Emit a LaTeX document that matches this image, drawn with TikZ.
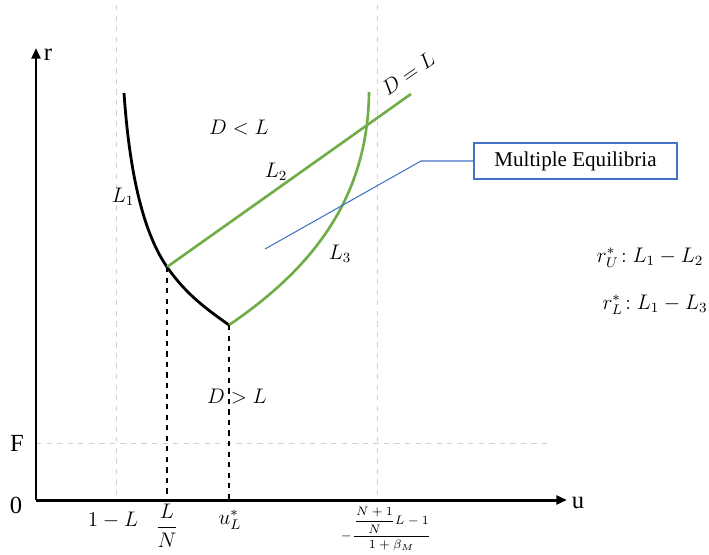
\documentclass[tikz,border=0pt]{standalone}
\usepackage{amsmath}
\usepackage{fontspec}
\setmainfont{Liberation Serif}
\usetikzlibrary{arrows.meta,positioning,calc}
\definecolor{curvegreen}{RGB}{112,173,71}
\definecolor{noteblue}{RGB}{68,114,196}
\begin{document}
\begin{tikzpicture}[x=0.02cm,y=-0.02cm,>={Triangle[length=6pt,width=5pt]},
  font=\fontsize{12}{14}\selectfont,
  axis/.style={line width=1.7pt},
  axislabel/.style={font=\fontsize{14}{16}\selectfont},
  guide/.style={gray!35,dashed,line width=0.5pt},
  drop/.style={black,dashed,line width=0.8pt},
  greencurve/.style={curvegreen,line width=1.5pt},
  tick/.style={anchor=center}]
\useasboundingbox (0,0) rectangle (709,554);
% guide lines
\draw[guide] (116,5) -- (116,500);
\draw[guide] (377,5) -- (377,500);
\draw[guide] (36,443) -- (550,443);
% axes
\coordinate (O) at (36,500);
\coordinate (ytop) at (36,48);
\coordinate (xend) at (567,500);
\draw[axis,->] (O) -- (ytop);
\draw[axis,->] (O) -- (xend);
\node[axislabel] (r) at (48,55) {r};
\node[axislabel] (u) at (578,503) {u};
\node[axislabel] (zero) at (16,505) {0};
\node[axislabel] (F) at (17,443) {F};
% key points
\coordinate (A) at (124,93);
\coordinate (P) at (167,267);
\coordinate (Q) at (229,325);
\coordinate (L2end) at (411,94);
\coordinate (L3end) at (369,92);
% curves
\draw[line width=1.6pt] (A) .. controls (130,180) and (145,235) .. (P)
  .. controls (186,294) and (205,308) .. (Q);
\draw[greencurve] (P) -- (L2end);
\draw[greencurve] (Q) .. controls (310,270) and (368,200) .. (L3end);
\draw[drop] (P) -- (P |- O);
\draw[drop] (Q) -- (Q |- O);
% tick labels
\node[tick] (oneL) at (113,520) {$1-L$};
\node[tick] (LN) at (167,526) {$\dfrac{L}{N}$};
\node[tick] (uL) at (230,520) {$u_L^*$};
\node[tick,font=\fontsize{7}{8}\selectfont] (bound) at (386,529)
  {$-\dfrac{\dfrac{N+1}{N}L-1}{1+\beta_M}$};
% region and curve labels
\node (DL) at (408,74) [rotate=35] {$D=L$};
\node (less) at (239,128) {$D<L$};
\node (more) at (237,397) {$D>L$};
\node (l1) at (123,197) {$L_1$};
\node (l2) at (276,172) {$L_2$};
\node (l3) at (340,254) {$L_3$};
% multiple equilibria note
\node[draw=noteblue,line width=0.7pt,minimum width=4.06cm,minimum height=0.72cm] (meq) at (575.5,161) {Multiple Equilibria};
\coordinate (meqtip) at (265,249);
\coordinate (meqbend) at (421,161);
\draw[noteblue,line width=0.6pt] (meqtip) -- (meqbend) -- (meq.west);
% equilibria
\node (rU) at (650,258) {$r_U^*\!:L_1-L_2$};
\node (rL) at (655,305) {$r_L^*\!:L_1-L_3$};
\end{tikzpicture}
\end{document}
